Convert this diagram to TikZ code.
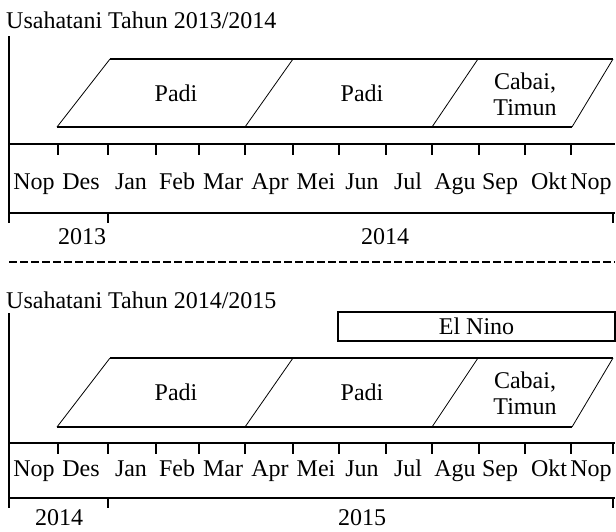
\documentclass[tikz,border=0pt]{standalone}
\usepackage{fontspec}
\setmainfont{Liberation Serif}
\begin{document}
\begin{tikzpicture}[x=1pt,y=-1pt,
  lbl/.style={inner sep=0pt, font=\fontsize{24}{26}\selectfont},
  mainline/.style={line width=1.7pt},
  slantline/.style={line width=0.8pt},
  tickline/.style={line width=1.6pt},
  sepline/.style={line width=2pt, dash pattern=on 8pt off 3pt}]
\useasboundingbox (0,0) rectangle (616,531);

% ================= Section 1 =================
\node[lbl, anchor=base west] (title1) at (6,28) {Usahatani Tahun 2013/2014};
\draw[mainline] (9,36) coordinate (v1a) -- (9,223) coordinate (v1b);

% parallelograms
\coordinate (a1) at (110,59); \coordinate (a2) at (293,59); \coordinate (a3) at (478,59); \coordinate (a4) at (613,59);
\coordinate (b1) at (57,127); \coordinate (b2) at (245,127); \coordinate (b3) at (432,127); \coordinate (b4) at (572,127);
\draw[mainline] (a1) -- (a4);
\draw[mainline] (b1) -- (b4);
\draw[slantline] (a1) -- (b1) (a2) -- (b2) (a3) -- (b3) (a4) -- (b4);
\node[lbl] (padi1a) at (176,93) {Padi};
\node[lbl] (padi1b) at (362,93) {Padi};
\node[lbl, align=center] (cabai1) at (525,94) {Cabai,\\Timun};

% timeline
\draw[mainline] (9,144) coordinate (t1l) -- (615,144) coordinate (t1r);
\draw[mainline] (9,213) coordinate (u1l) -- (615,213) coordinate (u1r);
\foreach \x in {58,108,156,199,245,293,339,386,432,479,525,571}
  \draw[tickline] (\x,144) -- (\x,155);
\foreach \x in {108,613}
  \draw[tickline] (\x,213) -- (\x,223);
\foreach \x/\m [count=\i] in {34/Nop,81/Des,131/Jan,177/Feb,223/Mar,270/Apr,316/Mei,362/Jun,408/Jul,455/Agu,500/Sep,549/Okt,591/Nop}
  \node[lbl, anchor=base] (m1-\i) at (\x,189) {\m};
\node[lbl, anchor=base] (y1a) at (82,244) {2013};
\node[lbl, anchor=base] (y1b) at (385,244) {2014};

% separator
\draw[sepline] (9,262) coordinate (s1) -- (615,262) coordinate (s2);

% ================= Section 2 =================
\node[lbl, anchor=base west] (title2) at (6,308) {Usahatani Tahun 2014/2015};
\draw[mainline] (9,313) coordinate (v2a) -- (9,508) coordinate (v2b);

\draw[mainline] (338,312) rectangle (615,341);
\node[lbl] (elnino) at (476.5,326.5) {El Nino};

\coordinate (c1) at (110,358); \coordinate (c2) at (293,358); \coordinate (c3) at (478,358); \coordinate (c4) at (613,358);
\coordinate (d1) at (57,427); \coordinate (d2) at (245,427); \coordinate (d3) at (432,427); \coordinate (d4) at (572,427);
\draw[mainline] (c1) -- (c4);
\draw[mainline] (d1) -- (d4);
\draw[slantline] (c1) -- (d1) (c2) -- (d2) (c3) -- (d3) (c4) -- (d4);
\node[lbl] (padi2a) at (176,392.5) {Padi};
\node[lbl] (padi2b) at (362,392.5) {Padi};
\node[lbl, align=center] (cabai2) at (525,393.5) {Cabai,\\Timun};

\draw[mainline] (9,443) coordinate (t2l) -- (615,443) coordinate (t2r);
\draw[mainline] (9,498) coordinate (u2l) -- (615,498) coordinate (u2r);
\foreach \x in {58,108,156,199,245,293,339,386,432,479,525,571,613}
  \draw[tickline] (\x,443) -- (\x,454);
\foreach \x in {108,613}
  \draw[tickline] (\x,498) -- (\x,508);
\foreach \x/\m [count=\i] in {34/Nop,81/Des,131/Jan,177/Feb,223/Mar,270/Apr,316/Mei,362/Jun,408/Jul,455/Agu,500/Sep,549/Okt,591/Nop}
  \node[lbl, anchor=base] (m2-\i) at (\x,476) {\m};
\node[lbl, anchor=base] (y2a) at (59,525) {2014};
\node[lbl, anchor=base] (y2b) at (362,525) {2015};
\end{tikzpicture}
\end{document}
